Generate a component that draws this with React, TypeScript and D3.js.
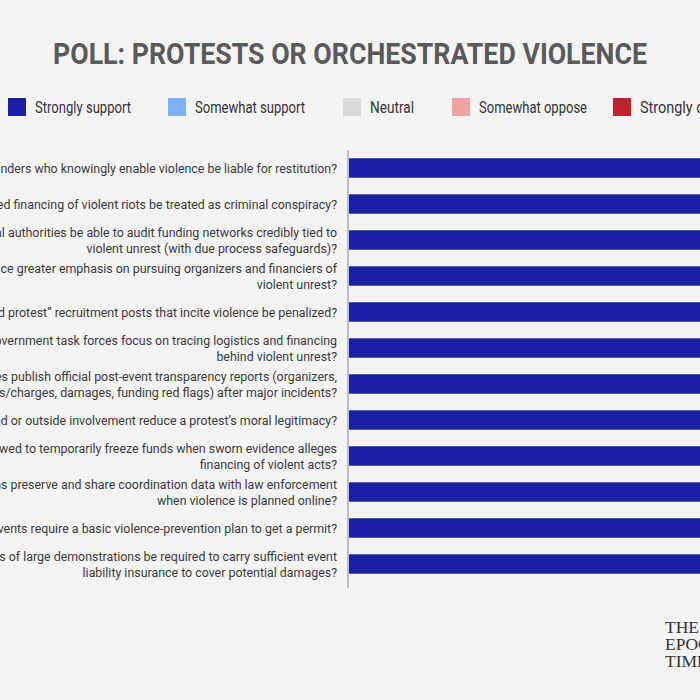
import React from 'react';
import * as d3 from 'd3';

const width = 700;
const height = 700;
// plot area; the stacked bars run on past the right edge
const margin = { top: 150, left: 348, plotWidth: 640 };

const categories = ['Strongly support', 'Somewhat support', 'Neutral', 'Somewhat oppose', 'Strongly oppose'];
const colors = ['#1b1fa3', '#7db2fb', '#d9d9d9', '#f0a3a3', '#c1222c'];

const questions = [
	['Should organizers and funders who knowingly enable violence be liable for restitution?'],
	['Should coordinated financing of violent riots be treated as criminal conspiracy?'],
	['Should federal authorities be able to audit funding networks credibly tied to', 'violent unrest (with due process safeguards)?'],
	['Should law enforcement place greater emphasis on pursuing organizers and financiers of', 'violent unrest?'],
	['Should \u201cpaid protest\u201d recruitment posts that incite violence be penalized?'],
	['Should government task forces focus on tracing logistics and financing', 'behind violent unrest?'],
	['Should cities publish official post-event transparency reports (organizers,', 'arrests/charges, damages, funding red flags) after major incidents?'],
	['Does paid or outside involvement reduce a protest\u2019s moral legitimacy?'],
	['Should courts be allowed to temporarily freeze funds when sworn evidence alleges', 'financing of violent acts?'],
	['Should platforms preserve and share coordination data with law enforcement', 'when violence is planned online?'],
	['Should organizers of large events require a basic violence-prevention plan to get a permit?'],
	['Should organizers of large demonstrations be required to carry sufficient event', 'liability insurance to cover potential damages?']
];

// percent of respondents per answer, one array per category
const stronglySupport = [74, 76, 68, 70, 72, 69, 71, 62, 63, 66, 61, 58];
const somewhatSupport = [14, 13, 17, 16, 15, 17, 16, 17, 19, 17, 20, 21];
const neutral = [6, 6, 8, 8, 7, 8, 7, 12, 10, 9, 10, 11];
const somewhatOppose = [3, 3, 4, 3, 3, 3, 3, 5, 5, 4, 5, 6];
const stronglyOppose = [3, 2, 3, 3, 3, 3, 3, 4, 3, 4, 4, 4];

const series = [stronglySupport, somewhatSupport, neutral, somewhatOppose, stronglyOppose];

const rows = questions.map((q, i) => {
	const row: any = { index: i };
	categories.forEach((c, k) => (row[c] = series[k][i]));
	return row;
});

const stackData = d3.stack().keys(categories)(rows);

const xScale = d3
	.scaleLinear()
	.domain([0, 100])
	.range([margin.left + 1, margin.left + 1 + margin.plotWidth]);

const yScale = d3
	.scaleBand()
	.domain(questions.map((q, i) => String(i)))
	.range([margin.top, margin.top + 36 * questions.length])
	.paddingInner(0.46)
	.paddingOuter(0.23);

const colorScale = d3.scaleOrdinal<string>().domain(categories).range(colors);

// legend entries: square x and label width
const legendX = [8, 168, 343, 452, 613];
const legendW = [96, 110, 44, 108, 104];

export default function App() {
	const labelFont = 'Roboto, sans-serif';
	const lineGap = 15.5;
	return (
		<svg
			width={width}
			height={height}
			style={{ position: 'absolute', left: 0, top: 0, background: '#f4f4f4' }}
		>
			<rect width={width} height={height} fill="#f4f4f4" />
			<text
				x={350}
				y={64}
				textAnchor="middle"
				fontFamily="Roboto, sans-serif"
				fontWeight={700}
				fontSize={29}
				fill="#5a5a5a"
				textLength={594}
				lengthAdjust="spacingAndGlyphs"
			>
				POLL: PROTESTS OR ORCHESTRATED VIOLENCE
			</text>

			{categories.map((c, k) => (
				<g key={c} transform={`translate(${legendX[k]},98)`}>
					<rect width={18} height={18} fill={colorScale(c)} />
					<text
						x={27}
						y={14.5}
						fontFamily="Roboto, sans-serif"
						fontSize={16}
						fill="#333"
						textLength={legendW[k]}
						lengthAdjust="spacingAndGlyphs"
					>
						{c}
					</text>
				</g>
			))}

			{stackData.map(layer =>
				layer.map((d, i) => (
					<rect
						key={layer.key + i}
						x={xScale(d[0])}
						y={yScale(String(i))}
						width={xScale(d[1]) - xScale(d[0])}
						height={yScale.bandwidth()}
						fill={colorScale(layer.key)}
					/>
				))
			)}

			<line x1={margin.left} x2={margin.left} y1={margin.top} y2={588} stroke="#888" strokeWidth={1} />

			{/* question labels, slightly condensed */}
			<g transform="translate(337,0) scale(0.94,1)">
				{questions.map((lines, i) => {
					const cy = (yScale(String(i)) as number) + yScale.bandwidth() / 2;
					const y0 = cy - ((lines.length - 1) * lineGap) / 2 + 4.8;
					return (
						<text
							key={i}
							x={0}
							textAnchor="end"
							fontFamily={labelFont}
							fontSize={13.2}
							fill="#3a3a3a"
						>
							{lines.map((l, j) => (
								<tspan key={j} x={0} y={y0 + j * lineGap}>
									{l}
								</tspan>
							))}
						</text>
					);
				})}
			</g>

			<g fontFamily='"Liberation Serif", serif' fontSize={17.5} fill="#333">
				<text x={665} y={633}>THE</text>
				<text x={665} y={650}>EPOCH</text>
				<text x={665} y={667}>TIMES</text>
			</g>
		</svg>
	);
}
